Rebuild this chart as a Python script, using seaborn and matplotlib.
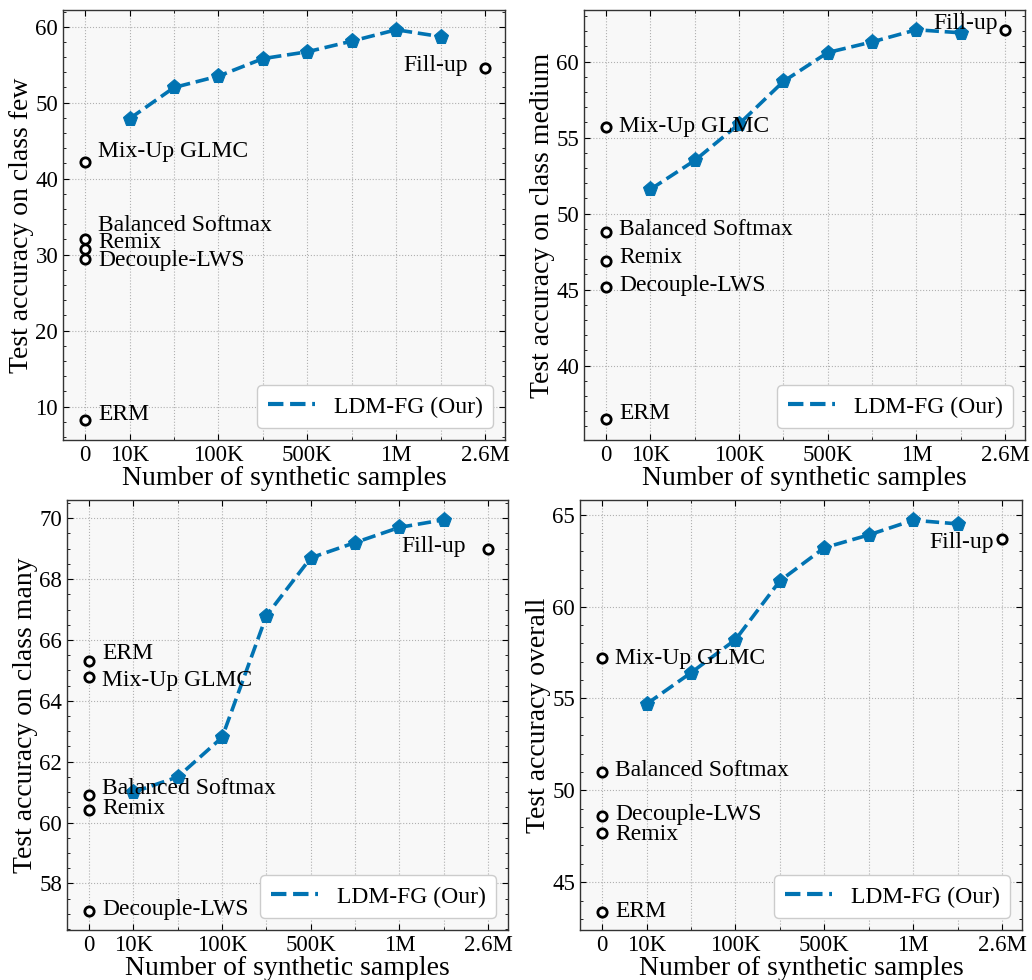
import matplotlib
matplotlib.use("Agg")
import matplotlib.pyplot as plt
from matplotlib.lines import Line2D
from matplotlib.ticker import MultipleLocator, AutoMinorLocator
import seaborn as sns
import pandas as pd

# x positions are plot slots: 0 = baselines, 1..8 = LDM-FG runs, 9 = Fill-up
ldm_x = [1, 2, 3, 4, 5, 6, 7, 8]
fill_x = 9
tick_pos = [0, 1, 3, 5, 7, 9]
tick_labels = ["0", "10K", "100K", "500K", "1M", "2.6M"]

methods = ["ERM", "Mix-Up GLMC", "Balanced Softmax", "Remix", "Decouple-LWS"]

few_ldm = [47.9, 52.0, 53.5, 55.8, 56.7, 58.1, 59.6, 58.7]
few_base = [8.2, 42.2, 32.1, 30.8, 29.4]
few_fill = 54.6

medium_ldm = [51.6, 53.5, 55.9, 58.7, 60.6, 61.3, 62.1, 61.9]
medium_base = [36.5, 55.7, 48.8, 46.9, 45.2]
medium_fill = 62.1

many_ldm = [61.0, 61.5, 62.8, 66.8, 68.7, 69.2, 69.7, 69.95]
many_base = [65.3, 64.8, 60.9, 60.4, 57.1]
many_fill = 69.0

overall_ldm = [54.7, 56.4, 58.2, 61.4, 63.2, 63.9, 64.7, 64.5]
overall_base = [43.4, 57.2, 51.0, 47.7, 48.6]
overall_fill = 63.7

BLUE = "#0173B2"

panels = [
    dict(ldm=few_ldm, base=few_base, fill=few_fill, ylabel="Test accuracy on class few",
         ylim=(5.6, 62.2), major=10,
         offs={"ERM": 6, "Mix-Up GLMC": 10, "Balanced Softmax": 13, "Remix": 6, "Decouple-LWS": -1},
         fill_off=(-17, 2), pos=[63, 10, 505, 440]),
    dict(ldm=medium_ldm, base=medium_base, fill=medium_fill, ylabel="Test accuracy on class medium",
         ylim=(35.1, 63.4), major=5,
         offs={"ERM": 5, "Mix-Up GLMC": 0, "Balanced Softmax": 2, "Remix": 3, "Decouple-LWS": 1},
         fill_off=(-7, 6), pos=[584, 10, 1025, 440]),
    dict(ldm=many_ldm, base=many_base, fill=many_fill, ylabel="Test accuracy on class many",
         ylim=(56.47, 70.6), major=2,
         offs={"ERM": 8, "Mix-Up GLMC": -4, "Balanced Softmax": 7, "Remix": 2, "Decouple-LWS": 1},
         fill_off=(-22, 2), pos=[67, 500, 508, 930]),
    dict(ldm=overall_ldm, base=overall_base, fill=overall_fill, ylabel="Test accuracy overall",
         ylim=(42.4, 65.8), major=5,
         offs={"ERM": 0, "Mix-Up GLMC": 0, "Balanced Softmax": 1, "Remix": -2, "Decouple-LWS": 2},
         fill_off=(-8, -4), pos=[580, 500, 1022, 930]),
]

sns.set_theme(style="ticks")
plt.rcParams["font.family"] = ["Liberation Serif", "DejaVu Serif"]
plt.rcParams["text.color"] = "black"
plt.rcParams["axes.labelcolor"] = "black"
plt.rcParams["xtick.color"] = "black"
plt.rcParams["ytick.color"] = "black"

W, H = 1032, 980
fig = plt.figure(figsize=(W / 100, H / 100), dpi=100)

for p in panels:
    l, t, r, b = p["pos"]
    ax = fig.add_axes([l / W, 1 - b / H, (r - l) / W, (b - t) / H])
    ax.set_facecolor("#f8f8f8")

    df = pd.DataFrame({"x": ldm_x, "acc": p["ldm"]})
    sns.lineplot(data=df, x="x", y="acc", ax=ax, color=BLUE, linestyle="--", linewidth=2.6,
                 marker="p", markersize=11, markeredgecolor=BLUE, zorder=3)

    bdf = pd.DataFrame({"x": [0] * len(methods) + [fill_x],
                        "acc": p["base"] + [p["fill"]],
                        "name": methods + ["Fill-up"]})
    sns.scatterplot(data=bdf, x="x", y="acc", ax=ax, s=45, facecolor="white",
                    edgecolor="black", linewidth=2, zorder=4, legend=False)

    for name, val in zip(methods, p["base"]):
        ax.annotate(name, (0, val), xytext=(13, p["offs"][name]), textcoords="offset pixels",
                    ha="left", va="center", fontsize=17)
    fx, fy = p["fill_off"]
    ax.annotate("Fill-up", (fill_x, p["fill"]), xytext=(fx, fy), textcoords="offset pixels",
                ha="right", va="center", fontsize=17)

    ax.set_xlim(-0.5, 9.45)
    ax.set_ylim(*p["ylim"])
    ax.set_xticks(tick_pos)
    ax.set_xticklabels(tick_labels)
    ax.xaxis.set_minor_locator(MultipleLocator(1))
    ax.yaxis.set_major_locator(MultipleLocator(p["major"]))
    ax.yaxis.set_minor_locator(AutoMinorLocator())
    ax.tick_params(which="both", direction="in", top=True, right=True, labelsize=16.5)
    ax.tick_params(which="major", length=4, width=0.8)
    ax.tick_params(which="minor", length=2, width=0.6)
    ax.grid(True, which="major", color="#b0b0b0", linestyle=":", linewidth=0.8)
    ax.grid(True, which="minor", axis="x", color="#b0b0b0", linestyle=":", linewidth=0.8)
    ax.set_axisbelow(True)
    for s in ax.spines.values():
        s.set_color("#333333")
        s.set_linewidth(1.0)

    ax.set_xlabel("Number of synthetic samples", fontsize=20, labelpad=0)
    ax.set_ylabel(p["ylabel"], fontsize=20, labelpad=1)

    handle = Line2D([], [], color=BLUE, linestyle="--", linewidth=3)
    ax.legend([handle], ["LDM-FG (Our)"], loc="lower right", fontsize=17, frameon=True,
              fancybox=True, facecolor="white", edgecolor="#cccccc", framealpha=1,
              handlelength=2.0, borderpad=0.45)

fig.savefig("out.png", dpi=100)
